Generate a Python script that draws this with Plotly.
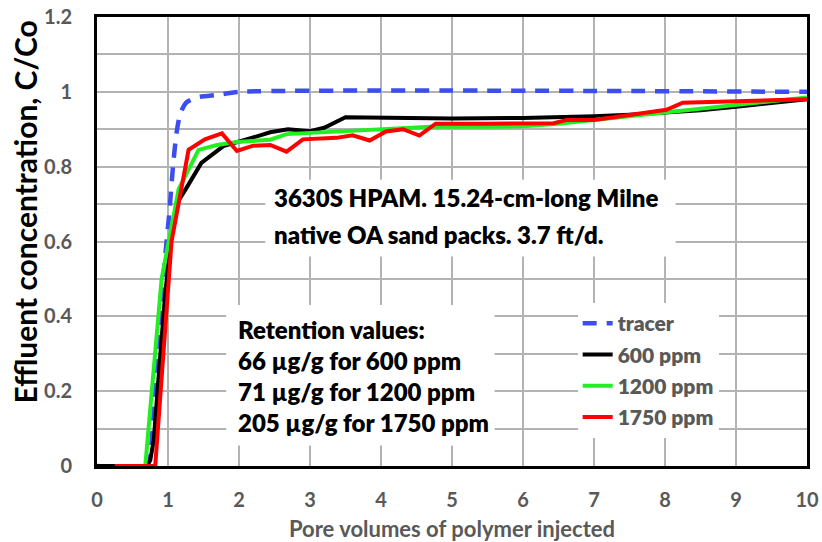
import plotly.graph_objects as go

# Pore volumes injected (PV) and normalized effluent concentration C/Co
tracer_pv = [0, 0.70, 0.76, 0.82, 0.90, 0.97, 1.02, 1.07, 1.12, 1.17, 1.25, 1.40, 1.70, 2.0, 10.0]
tracer_c = [0, 0, 0.05, 0.20, 0.42, 0.58, 0.68, 0.80, 0.89, 0.94, 0.97, 0.985, 0.992, 1.0, 1.0]

pv_600 = [0, 0.70, 0.75, 0.80, 0.86, 0.96, 1.06, 1.15, 1.25, 1.47, 1.78, 2.0, 2.2, 2.44, 2.69,
          3.0, 3.2, 3.5, 4.0, 5.0, 6.0, 6.5, 7.0, 7.5, 8.0, 8.5, 9.0, 9.5, 10.0]
c_600 = [0, 0, 0.015, 0.07, 0.22, 0.46, 0.63, 0.71, 0.74, 0.81, 0.855, 0.866, 0.878, 0.892, 0.90,
         0.895, 0.904, 0.932, 0.931, 0.929, 0.93, 0.932, 0.935, 0.939, 0.944, 0.951, 0.96, 0.97, 0.98]

pv_1200 = [0.30, 0.68, 0.91, 1.15, 1.43, 1.69, 1.97, 2.2, 2.44, 2.67, 3.0, 3.5, 4.0, 4.7, 5.5,
           6.0, 6.5, 7.0, 7.5, 8.0, 9.0, 10.0]
c_1200 = [0, 0, 0.50, 0.74, 0.845, 0.858, 0.866, 0.868, 0.872, 0.887, 0.89, 0.894, 0.90, 0.907, 0.907,
          0.908, 0.915, 0.925, 0.935, 0.945, 0.965, 0.985]

pv_1750 = [0.25, 0.82, 1.05, 1.29, 1.52, 1.76, 1.97, 2.2, 2.44, 2.67, 2.9, 3.13, 3.37, 3.6, 3.84,
           4.07, 4.31, 4.54, 4.77, 5.5, 6.43, 6.62, 7.0, 8.02, 8.25, 10.0]
c_1750 = [0, 0, 0.60, 0.845, 0.873, 0.889, 0.842, 0.856, 0.858, 0.84, 0.873, 0.875, 0.877, 0.884, 0.87,
          0.894, 0.90, 0.883, 0.915, 0.915, 0.916, 0.925, 0.925, 0.952, 0.971, 0.98]

series_names = ["tracer", "600 ppm", "1200 ppm", "1750 ppm"]

note_lines = ["3630S HPAM. 15.24-cm-long Milne", "native OA sand packs. 3.7 ft/d."]
retention_lines = ["Retention values:", "66 µg/g for 600 ppm",
                   "71 µg/g for 1200 ppm", "205 µg/g for 1750 ppm"]

FONT = "Lato"
GRAY = "#595959"
GRID = "#b3b3b3"

fig = go.Figure()
fig.add_trace(go.Scatter(x=tracer_pv, y=tracer_c, name=series_names[0], mode="lines",
                         legendgroup="g0",
                         line=dict(color="#3d4ef0", width=4.5, dash="14px,10px", shape="spline",
                                   smoothing=0.6)))
fig.add_trace(go.Scatter(x=pv_600, y=c_600, name=series_names[1], mode="lines", legendgroup="g1",
                         line=dict(color="#000000", width=4)))
fig.add_trace(go.Scatter(x=pv_1200, y=c_1200, name=series_names[2], mode="lines", legendgroup="g2",
                         line=dict(color="#22ee22", width=4)))
fig.add_trace(go.Scatter(x=pv_1750, y=c_1750, name=series_names[3], mode="lines", legendgroup="g3",
                         line=dict(color="#ff0000", width=4)))

# white text boxes sit over the grid but under the curves
fig.add_shape(type="rect", xref="x", yref="y", x0=2.37, x1=8.15, y0=0.56, y1=0.765,
              fillcolor="white", line=dict(width=0), layer="between")
fig.add_shape(type="rect", xref="x", yref="y", x0=1.82, x1=5.6, y0=0.055, y1=0.43,
              fillcolor="white", line=dict(width=0), layer="between")

note_y = [0.717, 0.618]
for txt, yy in zip(note_lines, note_y):
    fig.add_annotation(x=2.46, y=yy, xref="x", yref="y", text=txt, showarrow=False,
                       xanchor="left", yanchor="middle",
                       font=dict(family=FONT, size=24, color="black", weight=800))

ret_y = [0.366, 0.281, 0.198, 0.117]
for txt, yy in zip(retention_lines, ret_y):
    fig.add_annotation(x=1.96, y=yy, xref="x", yref="y", text=txt, showarrow=False,
                       xanchor="left", yanchor="middle",
                       font=dict(family=FONT, size=24, color="black", weight=800))

# y-axis title, placed above the plot's vertical centre
fig.add_annotation(x=-0.102, y=0.566, xref="paper", yref="paper",
                   text="Effluent concentration, C/Co", showarrow=False, textangle=-90,
                   xanchor="center", yanchor="middle",
                   font=dict(family=FONT, size=30, color="black", weight="bold"))

fig.update_layout(
    width=822, height=542,
    margin=dict(l=97, r=15, t=17, b=76, autoexpand=False),
    plot_bgcolor="white", paper_bgcolor="white",
    font=dict(family=FONT, color=GRAY),
    legend=dict(x=0.677, y=0.363, xanchor="left", yanchor="top", bgcolor="white",
                font=dict(family=FONT, size=21, color=GRAY, weight=800),
                tracegroupgap=1, itemwidth=30),
    showlegend=True,
)
fig.update_xaxes(range=[0, 10], dtick=1, tick0=0, showgrid=True, gridcolor=GRID, gridwidth=1.5,
                 zeroline=False, showline=True, linecolor="black", linewidth=3, mirror=True,
                 ticks="", ticklabelstandoff=14, automargin=False,
                 tickfont=dict(family=FONT, size=20, color=GRAY, weight="bold"),
                 title=dict(text="Pore volumes of polymer injected", standoff=15,
                            font=dict(family=FONT, size=22, color=GRAY, weight="bold")))
fig.update_yaxes(range=[0, 1.2], dtick=0.2, tick0=0, showgrid=True, gridcolor=GRID, gridwidth=1.5,
                 minor=dict(dtick=0.1, showgrid=True, gridcolor=GRID, gridwidth=1.5),
                 zeroline=False, showline=True, linecolor="black", linewidth=3, mirror=True,
                 ticks="", ticklabelstandoff=18, tickformat="~g", automargin=False,
                 tickfont=dict(family=FONT, size=20, color=GRAY, weight="bold"))

fig.write_html("out.html")
